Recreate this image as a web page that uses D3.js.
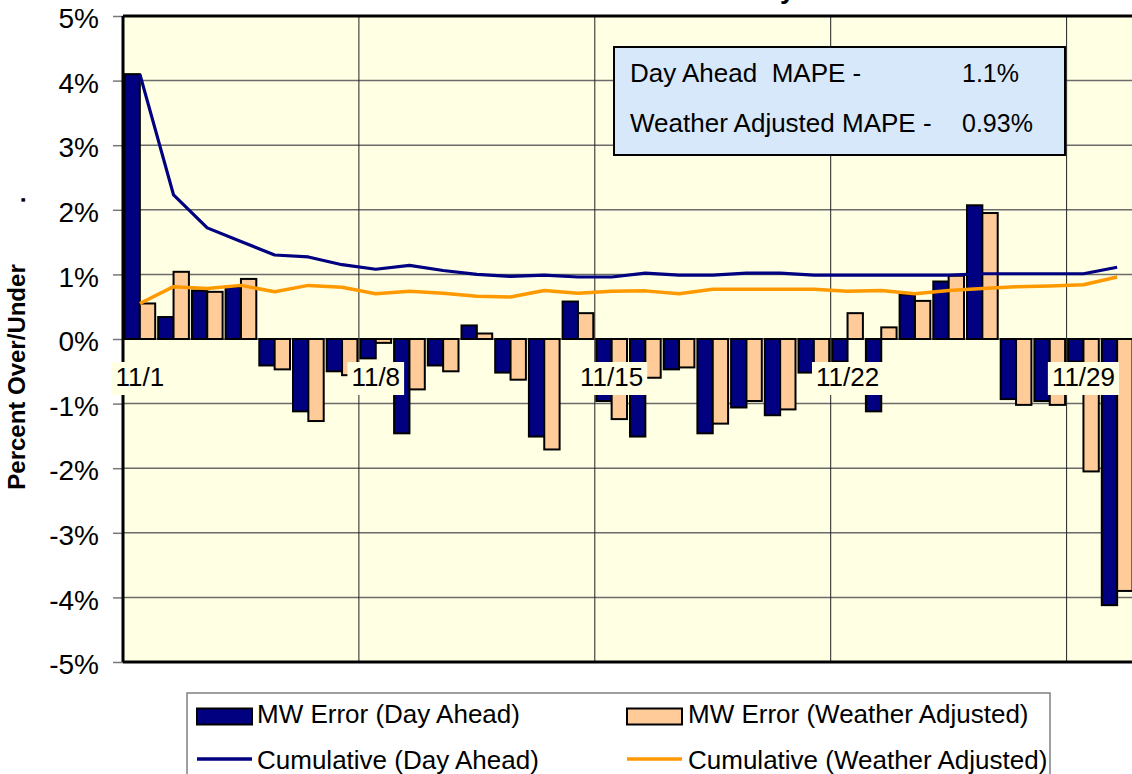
<!DOCTYPE html>
<html>
<head>
<meta charset="utf-8">
<script src="https://cdn.jsdelivr.net/npm/d3@7"></script>
<style>
  html, body { margin: 0; padding: 0; background: #fff; overflow: hidden; }
  svg { display: block; font-family: "Liberation Sans", Arial, sans-serif; }
  text { white-space: pre; }
</style>
</head>
<body>
<svg id="chart" width="1132" height="774"></svg>
<script>
// November daily forecast error, percent over/under
const days = ["11/1","11/2","11/3","11/4","11/5","11/6","11/7","11/8","11/9","11/10",
  "11/11","11/12","11/13","11/14","11/15","11/16","11/17","11/18","11/19","11/20",
  "11/21","11/22","11/23","11/24","11/25","11/26","11/27","11/28","11/29","11/30"];
const labelledDays = ["11/1","11/8","11/15","11/22","11/29"];

const errDayAhead = [4.10, 0.34, 0.75, 0.81, -0.41, -1.12, -0.50, -0.30, -1.46, -0.41,
  0.21, -0.52, -1.51, 0.58, -0.96, -1.51, -0.47, -1.46, -1.06, -1.18,
  -0.52, -0.35, -1.12, 0.69, 0.89, 2.07, -0.93, -0.96, -0.35, -4.12];
const errWeatherAdj = [0.55, 1.04, 0.73, 0.93, -0.47, -1.27, -0.56, -0.06, -0.78, -0.50,
  0.085, -0.63, -1.71, 0.40, -1.24, -0.60, -0.44, -1.31, -0.96, -1.09,
  -0.40, 0.40, 0.18, 0.59, 0.98, 1.95, -1.02, -1.02, -2.05, -3.90];
const cumDayAhead = [4.10, 2.23, 1.72, 1.51, 1.30, 1.27, 1.15, 1.08, 1.14, 1.06,
  1.00, 0.97, 0.99, 0.96, 0.96, 1.02, 0.99, 0.99, 1.02, 1.02,
  0.99, 0.99, 0.99, 0.99, 0.99, 1.01, 1.01, 1.01, 1.01, 1.11];
const cumWeatherAdj = [0.55, 0.81, 0.78, 0.83, 0.73, 0.83, 0.80, 0.70, 0.74, 0.71,
  0.66, 0.65, 0.75, 0.71, 0.74, 0.745, 0.70, 0.77, 0.77, 0.77,
  0.77, 0.74, 0.75, 0.70, 0.75, 0.78, 0.81, 0.82, 0.84, 0.96];

const yTicks = [5, 4, 3, 2, 1, 0, -1, -2, -3, -4, -5];
const mapeLabels = ["Day Ahead  MAPE -", "Weather Adjusted MAPE -"];
const mapeValues = ["1.1%", "0.93%"];
const seriesNames = ["MW Error (Day Ahead)", "MW Error (Weather Adjusted)",
  "Cumulative (Day Ahead)", "Cumulative (Weather Adjusted)"];

const C = { navy: "#000080", peach: "#FFCC99", orange: "#FF9900", plot: "#FFFFE3", box: "#D7E8FB" };

const svg = d3.select("#chart");
const plotL = 123, plotT = 16, plotB = 662, step = 33.7;
const plotR = plotL + step * days.length;

const x = d3.scaleBand().domain(days).range([plotL, plotR]).padding(0);
const xs = d3.scaleBand().domain(["da", "wa"]).range([1.5, x.bandwidth() - 1.5]).padding(0);
const y = d3.scaleLinear().domain([-5, 5]).range([plotB, plotT]);
const cx = d => x(d) + x.bandwidth() / 2;

// plot background
svg.append("rect").attr("x", plotL).attr("y", plotT).attr("width", plotR - plotL)
  .attr("height", plotB - plotT).attr("fill", C.plot);

// horizontal gridlines and tick marks
const yAxis = d3.axisLeft(y).tickValues(yTicks).tickSize(10).tickFormat(d => d + "%");
const gy = svg.append("g").attr("transform", `translate(${plotL},0)`).call(yAxis);
gy.select(".domain").remove();
gy.selectAll(".tick line").attr("stroke", "#777").attr("stroke-width", 1.5);
gy.selectAll(".tick text").attr("x", -24).attr("dy", "0.42em")
  .attr("font-size", 28).attr("fill", "#000").attr("font-family", "Liberation Sans, Arial, sans-serif");
svg.append("g").selectAll("line").data(yTicks.filter(t => t !== 5 && t !== -5)).join("line")
  .attr("x1", plotL).attr("x2", plotR).attr("y1", d => y(d)).attr("y2", d => y(d))
  .attr("stroke", "#6b6b6b").attr("stroke-width", 1.5);

// vertical gridlines every week
svg.append("g").selectAll("line").data(labelledDays.slice(1)).join("line")
  .attr("x1", d => x(d)).attr("x2", d => x(d)).attr("y1", plotT).attr("y2", plotB)
  .attr("stroke", "#222").attr("stroke-width", 1);

// daily error bars
const bars = svg.append("g");
function drawBars(vals, key, fill) {
  bars.append("g").selectAll("rect").data(days).join("rect")
    .attr("x", d => x(d) + xs(key))
    .attr("width", xs.bandwidth())
    .attr("y", (d, i) => y(Math.max(0, vals[i])))
    .attr("height", (d, i) => Math.abs(y(vals[i]) - y(0)))
    .attr("fill", fill).attr("stroke", "#000").attr("stroke-width", 2);
}
drawBars(errDayAhead, "da", C.navy);
drawBars(errWeatherAdj, "wa", C.peach);

// cumulative lines
const line = d3.line().x((d, i) => cx(days[i])).y(d => y(d));
svg.append("path").datum(cumWeatherAdj).attr("d", line).attr("fill", "none")
  .attr("stroke", C.orange).attr("stroke-width", 3.5).attr("stroke-linejoin", "round");
svg.append("path").datum(cumDayAhead).attr("d", line).attr("fill", "none")
  .attr("stroke", C.navy).attr("stroke-width", 3.2).attr("stroke-linejoin", "round");

// plot frame
svg.append("line").attr("x1", plotL).attr("x2", plotR).attr("y1", plotT).attr("y2", plotT)
  .attr("stroke", "#000").attr("stroke-width", 3);
svg.append("line").attr("x1", plotL).attr("x2", plotR).attr("y1", plotB).attr("y2", plotB)
  .attr("stroke", "#000").attr("stroke-width", 3);
svg.append("line").attr("x1", plotL).attr("x2", plotL).attr("y1", plotT).attr("y2", plotB)
  .attr("stroke", "#000").attr("stroke-width", 3);

// category labels sitting just under the zero line
const xl = svg.append("g");
labelledDays.forEach(d => {
  const g = xl.append("g");
  const t = g.append("text").attr("x", cx(d)).attr("y", 386).attr("text-anchor", "middle")
    .attr("font-size", 26).attr("fill", "#000").text(d);
  const w = t.node().getComputedTextLength();
  g.insert("rect", "text").attr("x", cx(d) - w / 2 - 4).attr("y", 362)
    .attr("width", w + 8).attr("height", 33).attr("fill", C.plot);
});

// MAPE summary box
svg.append("rect").attr("x", 614).attr("y", 47).attr("width", 451).attr("height", 108)
  .attr("fill", C.box).attr("stroke", "#000").attr("stroke-width", 2);
mapeLabels.forEach((t, i) => {
  svg.append("text").attr("x", 630).attr("y", 82 + i * 49.5).attr("font-size", 26)
    .attr("fill", "#000").text(t);
  svg.append("text").attr("x", 962).attr("y", 82 + i * 49.5).attr("font-size", 25)
    .attr("fill", "#000").text(mapeValues[i]);
});

// title (runs off the top edge)
svg.append("text").attr("x", 795).attr("y", -2).attr("text-anchor", "end")
  .attr("font-size", 27).attr("font-weight", "bold").text("November Forecast Accuracy");

// y-axis title
svg.append("text").attr("transform", "translate(25,377) rotate(-90)")
  .attr("text-anchor", "middle").attr("font-size", 24).attr("font-weight", "bold")
  .text("Percent Over/Under");
svg.append("text").attr("transform", "translate(25,200) rotate(-90)")
  .attr("text-anchor", "middle").attr("font-size", 24).attr("font-weight", "bold").text(".");

// legend
const lg = svg.append("g");
lg.append("rect").attr("x", 187).attr("y", 693).attr("width", 863).attr("height", 100)
  .attr("fill", "#fff").attr("stroke", "#808080").attr("stroke-width", 1.5);
const legendCols = [197, 627];
const legendText = [257, 688];
const legendRows = [716.5, 759];
seriesNames.forEach((name, i) => {
  const col = legendCols[i % 2], row = legendRows[Math.floor(i / 2)];
  if (i < 2) {
    lg.append("rect").attr("x", col).attr("y", row - 8).attr("width", 55)
      .attr("height", 16).attr("fill", i === 0 ? C.navy : C.peach)
      .attr("stroke", "#000").attr("stroke-width", 2);
  } else {
    lg.append("line").attr("x1", col).attr("x2", col + 55)
      .attr("y1", row).attr("y2", row)
      .attr("stroke", i === 2 ? C.navy : C.orange).attr("stroke-width", 3.5);
  }
  lg.append("text").attr("x", legendText[i % 2]).attr("y", row + 6 + (i < 2 ? 0 : 4))
    .attr("font-size", 26).attr("fill", "#000").text(name);
});
</script>
</body>
</html>
